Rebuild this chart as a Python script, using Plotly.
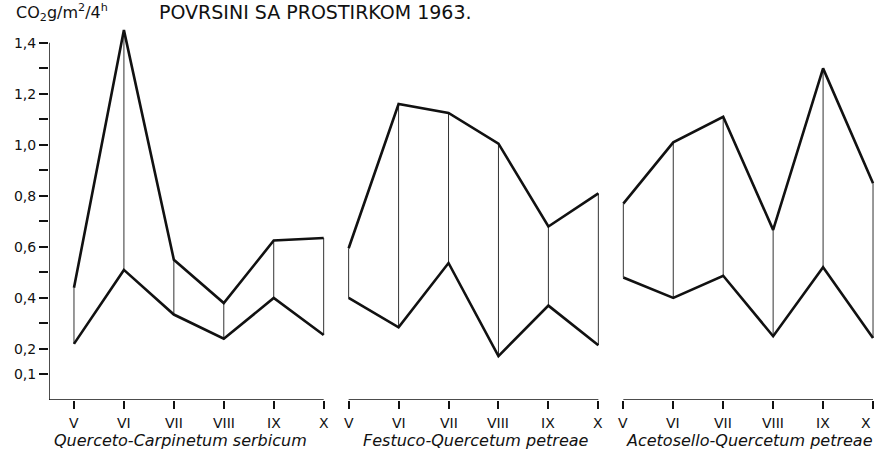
import plotly.graph_objects as go

# months of the season (roman numerals on the x axis)
months = ["V", "VI", "VII", "VIII", "IX", "X"]
communities = [
    "Querceto-Carpinetum serbicum",
    "Festuco-Quercetum petreae",
    "Acetosello-Quercetum petreae",
]

# CO2 g/m2/4h, upper and lower curve per community
upper_qc = [0.44, 1.45, 0.55, 0.38, 0.625, 0.635]
lower_qc = [0.22, 0.51, 0.335, 0.24, 0.40, 0.255]
upper_fq = [0.595, 1.16, 1.125, 1.005, 0.68, 0.81]
lower_fq = [0.40, 0.285, 0.537, 0.172, 0.37, 0.215]
upper_aq = [0.77, 1.01, 1.11, 0.667, 1.30, 0.85]
lower_aq = [0.48, 0.40, 0.487, 0.25, 0.52, 0.243]

y_ticks = [0.1, 0.2, 0.4, 0.6, 0.8, 1.0, 1.2, 1.4]
y_labels = ["0,1", "0,2", "0,4", "0,6", "0,8", "1,0", "1,2", "1,4"]
y_minor = [0.3, 0.5, 0.7, 0.9, 1.1, 1.3]

title_text = "POVRSINI SA PROSTIRKOM 1963."
unit_text = "CO<sub>2</sub>g/m<sup>2</sup>/4<sup>h</sup>"

panels = [(upper_qc, lower_qc), (upper_fq, lower_fq), (upper_aq, lower_aq)]
offsets = [0, 5.5, 11]
label_x = [2.14, 8.06, 13.53]

FONT = "DejaVu Sans, Liberation Sans, Arial"
INK = "#111111"

fig = go.Figure()
annotations = []

tickvals = []
for p, ((up, lo), off) in enumerate(zip(panels, offsets)):
    xs = [off + i for i in range(len(months))]
    tickvals += xs

    # month labels as annotations; the very last one hugs the right edge
    for i, (x, m) in enumerate(zip(xs, months)):
        last = p == len(panels) - 1 and i == len(months) - 1
        annotations.append(dict(
            text=m, xref="x", yref="paper", x=x, y=-0.061,
            xanchor="right" if last else "center", yanchor="middle",
            showarrow=False,
            font=dict(family=FONT, size=14, color=INK)))

    # thin verticals joining lower and upper value of each month
    vx, vy = [], []
    for x, a, b in zip(xs, lo, up):
        vx += [x, x, None]
        vy += [a, b, None]
    fig.add_trace(go.Scatter(x=vx, y=vy, mode="lines",
                             line=dict(color="#333333", width=1),
                             hoverinfo="skip", showlegend=False))

    fig.add_trace(go.Scatter(x=xs, y=up, mode="lines",
                             line=dict(color=INK, width=2.6),
                             showlegend=False, cliponaxis=False))
    fig.add_trace(go.Scatter(x=xs, y=lo, mode="lines",
                             line=dict(color=INK, width=2.6),
                             showlegend=False, cliponaxis=False))

# axis lines drawn by hand: one baseline per panel and a y axis up to 1,4
shapes = [
    dict(type="line", xref="x", yref="y", x0=-0.5, x1=-0.5, y0=0, y1=1.4,
         line=dict(color=INK, width=1.5)),
    dict(type="line", xref="x", yref="y", x0=-0.5, x1=5, y0=0, y1=0,
         line=dict(color=INK, width=1.5)),
    dict(type="line", xref="x", yref="y", x0=5.5, x1=10.5, y0=0, y1=0,
         line=dict(color=INK, width=1.5)),
    dict(type="line", xref="x", yref="y", x0=11, x1=16, y0=0, y1=0,
         line=dict(color=INK, width=1.5)),
]

annotations += [
    dict(text=title_text, xref="paper", yref="paper", x=0.318, y=1.035,
         xanchor="center", yanchor="middle", showarrow=False,
         font=dict(family=FONT, size=19, color=INK)),
    dict(text=unit_text, xref="paper", yref="paper", x=0.0155, y=1.032,
         xanchor="center", yanchor="middle", showarrow=False,
         font=dict(family=FONT, size=16, color=INK)),
]
for name, lx in zip(communities, label_x):
    annotations.append(dict(
        text=f"<i>{name}</i>", xref="x", yref="paper", x=lx, y=-0.109,
        xanchor="center", yanchor="middle", showarrow=False,
        font=dict(family=FONT, size=16, color=INK)))

fig.update_layout(
    width=888,
    height=450,
    margin=dict(l=49, r=0, t=25, b=50),
    paper_bgcolor="white",
    plot_bgcolor="white",
    showlegend=False,
    shapes=shapes,
    annotations=annotations,
    xaxis=dict(
        range=[-0.5, 16.3],
        tickvals=tickvals,
        showticklabels=False,
        ticks="outside",
        ticklen=8,
        tickwidth=1.5,
        tickcolor=INK,
        showline=False,
        showgrid=False,
        zeroline=False,
    ),
    yaxis=dict(
        range=[0, 1.47],
        tickvals=y_ticks,
        ticktext=y_labels,
        ticks="outside",
        ticklen=9,
        tickwidth=1.5,
        tickcolor=INK,
        minor=dict(tickvals=y_minor, ticks="outside", ticklen=9,
                   tickwidth=1.5, tickcolor=INK, showgrid=False),
        showline=False,
        showgrid=False,
        zeroline=False,
        tickfont=dict(family=FONT, size=14, color=INK),
    ),
)

# drop the default page margin and any scrollbars so the figure fills the window
fig.write_html("out.html", config={"displayModeBar": False}, post_script=(
    "document.documentElement.style.overflow='hidden';"
    "document.body.style.margin='0';"
    "document.body.style.overflow='hidden';"
))
